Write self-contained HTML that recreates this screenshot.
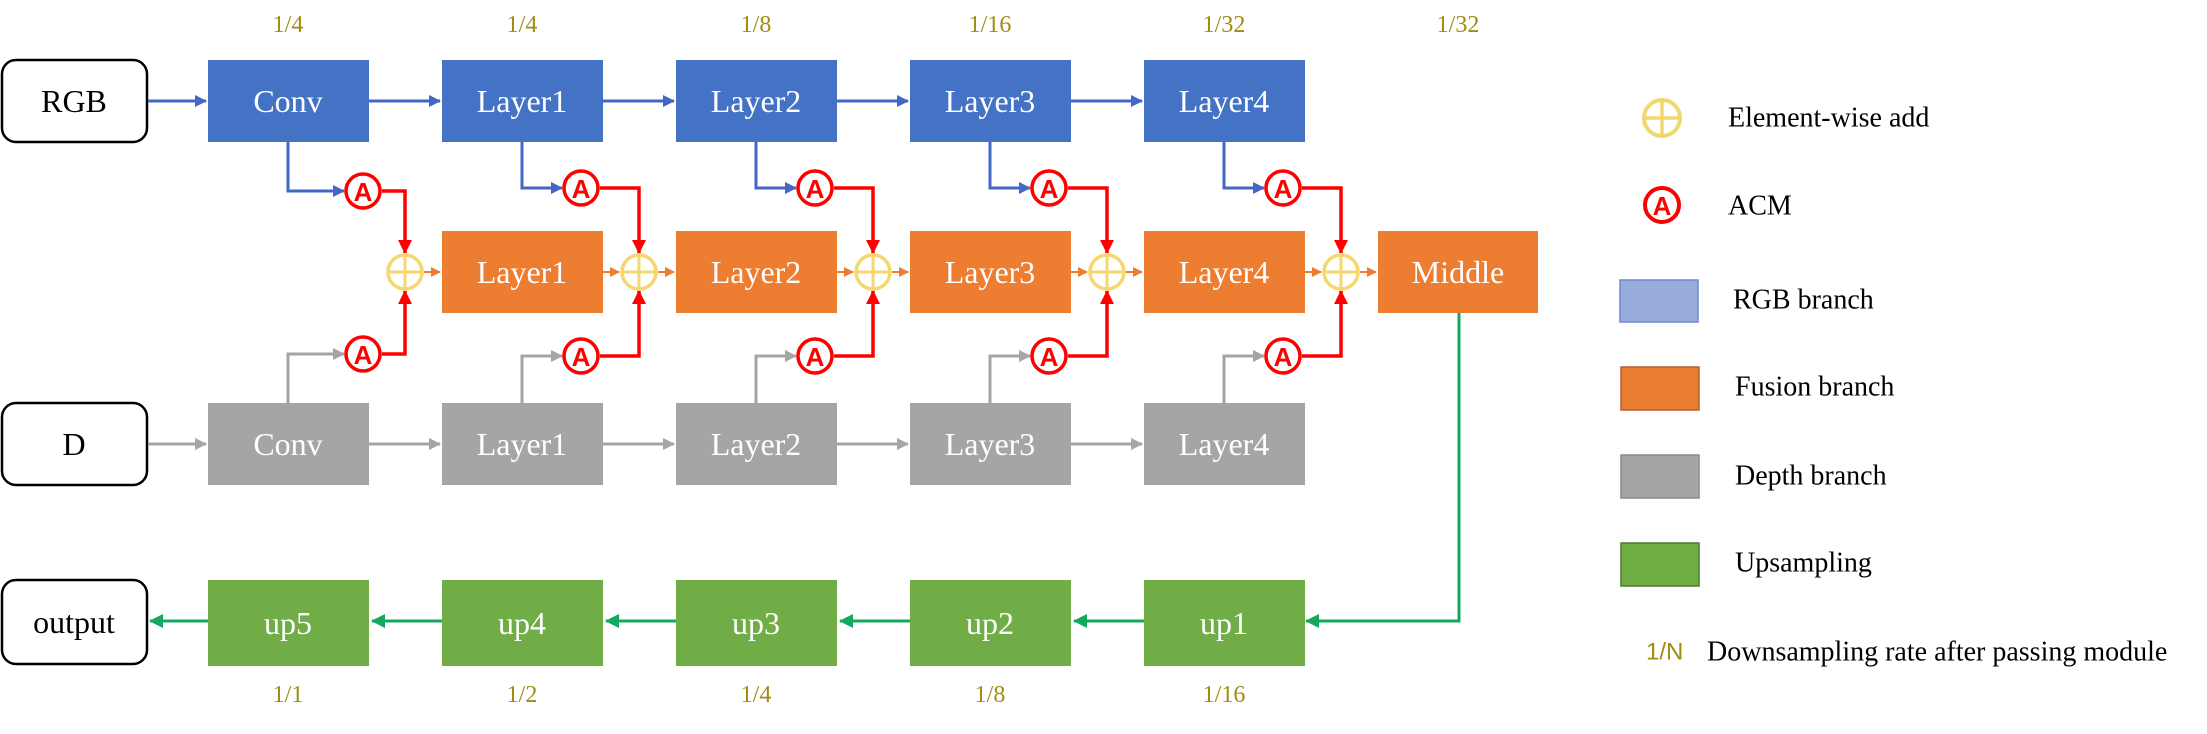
<!DOCTYPE html>
<html><head><meta charset="utf-8"><style>
html,body{margin:0;padding:0;background:#fff;}
svg{display:block;}
.bl{font-family:"Liberation Serif",serif;font-size:32px;fill:#fff;text-anchor:middle;dominant-baseline:central;}
.bk{font-family:"Liberation Serif",serif;font-size:32px;fill:#000;text-anchor:middle;dominant-baseline:central;}
.rt{font-family:"Liberation Serif",serif;font-size:24px;fill:#a08c10;text-anchor:middle;dominant-baseline:central;}
.lg{font-family:"Liberation Serif",serif;font-size:28px;fill:#000;dominant-baseline:central;}
.acm{font-family:"Liberation Sans",sans-serif;font-size:26px;font-weight:bold;fill:#f00;text-anchor:middle;dominant-baseline:central;}
</style></head><body>
<svg width="2207" height="734" viewBox="0 0 2207 734" xmlns="http://www.w3.org/2000/svg">
<defs>
<marker id="ab" markerWidth="12" markerHeight="12" refX="11" refY="6" orient="auto" markerUnits="userSpaceOnUse"><path d="M0,0 L12,6 L0,12z" fill="#4466c4"/></marker>
<marker id="ag" markerWidth="12" markerHeight="12" refX="11" refY="6" orient="auto" markerUnits="userSpaceOnUse"><path d="M0,0 L12,6 L0,12z" fill="#a5a5a5"/></marker>
<marker id="ar" markerWidth="14" markerHeight="14" refX="13" refY="7" orient="auto" markerUnits="userSpaceOnUse"><path d="M0,0 L14,7 L0,14z" fill="#f00"/></marker>
<marker id="ao" markerWidth="10" markerHeight="10" refX="9" refY="5" orient="auto" markerUnits="userSpaceOnUse"><path d="M0,0 L10,5 L0,10z" fill="#ed7d31"/></marker>
<marker id="an" markerWidth="14" markerHeight="14" refX="13" refY="7" orient="auto" markerUnits="userSpaceOnUse"><path d="M0,0 L14,7 L0,14z" fill="#12a85e"/></marker>
</defs>

<text class="rt" x="288" y="25">1/4</text><text class="rt" x="522" y="25">1/4</text><text class="rt" x="756" y="25">1/8</text><text class="rt" x="990" y="25">1/16</text><text class="rt" x="1224" y="25">1/32</text><text class="rt" x="1458" y="25">1/32</text>
<text class="rt" x="288" y="695">1/1</text><text class="rt" x="522" y="695">1/2</text><text class="rt" x="756" y="695">1/4</text><text class="rt" x="990" y="695">1/8</text><text class="rt" x="1224" y="695">1/16</text>

<rect x="2" y="60" width="145" height="82" rx="14" fill="#fff" stroke="#000" stroke-width="2.5"/><text class="bk" x="74" y="101">RGB</text>
<rect x="2" y="403" width="145" height="82" rx="14" fill="#fff" stroke="#000" stroke-width="2.5"/><text class="bk" x="74" y="444">D</text>
<rect x="2" y="580" width="145" height="84" rx="14" fill="#fff" stroke="#000" stroke-width="2.5"/><text class="bk" x="74" y="622">output</text>

<g stroke-width="3" fill="none">
<path d="M148 101H206" stroke="#4466c4" marker-end="url(#ab)"/>
<path d="M369 101H440" stroke="#4466c4" marker-end="url(#ab)"/>
<path d="M603 101H674" stroke="#4466c4" marker-end="url(#ab)"/>
<path d="M837 101H908" stroke="#4466c4" marker-end="url(#ab)"/>
<path d="M1071 101H1142" stroke="#4466c4" marker-end="url(#ab)"/>
<path d="M148 444H206" stroke="#a5a5a5" marker-end="url(#ag)"/>
<path d="M369 444H440" stroke="#a5a5a5" marker-end="url(#ag)"/>
<path d="M603 444H674" stroke="#a5a5a5" marker-end="url(#ag)"/>
<path d="M837 444H908" stroke="#a5a5a5" marker-end="url(#ag)"/>
<path d="M1071 444H1142" stroke="#a5a5a5" marker-end="url(#ag)"/>
<path d="M1144 621H1074" stroke="#12a85e" marker-end="url(#an)"/>
<path d="M910 621H840" stroke="#12a85e" marker-end="url(#an)"/>
<path d="M676 621H606" stroke="#12a85e" marker-end="url(#an)"/>
<path d="M442 621H372" stroke="#12a85e" marker-end="url(#an)"/>
<path d="M208 621H150" stroke="#12a85e" marker-end="url(#an)"/>
<path d="M1459 313V621H1306" stroke="#12a85e" marker-end="url(#an)"/>
</g>

<g>
<rect x="208" y="60" width="161" height="82" fill="#4472c4"/><text class="bl" x="288" y="101">Conv</text>
<rect x="442" y="60" width="161" height="82" fill="#4472c4"/><text class="bl" x="522" y="101">Layer1</text>
<rect x="676" y="60" width="161" height="82" fill="#4472c4"/><text class="bl" x="756" y="101">Layer2</text>
<rect x="910" y="60" width="161" height="82" fill="#4472c4"/><text class="bl" x="990" y="101">Layer3</text>
<rect x="1144" y="60" width="161" height="82" fill="#4472c4"/><text class="bl" x="1224" y="101">Layer4</text>

<rect x="442" y="231" width="161" height="82" fill="#ed7d31"/><text class="bl" x="522" y="272">Layer1</text>
<rect x="676" y="231" width="161" height="82" fill="#ed7d31"/><text class="bl" x="756" y="272">Layer2</text>
<rect x="910" y="231" width="161" height="82" fill="#ed7d31"/><text class="bl" x="990" y="272">Layer3</text>
<rect x="1144" y="231" width="161" height="82" fill="#ed7d31"/><text class="bl" x="1224" y="272">Layer4</text>
<rect x="1378" y="231" width="160" height="82" fill="#ed7d31"/><text class="bl" x="1458" y="272">Middle</text>

<rect x="208" y="403" width="161" height="82" fill="#a5a5a5"/><text class="bl" x="288" y="444">Conv</text>
<rect x="442" y="403" width="161" height="82" fill="#a5a5a5"/><text class="bl" x="522" y="444">Layer1</text>
<rect x="676" y="403" width="161" height="82" fill="#a5a5a5"/><text class="bl" x="756" y="444">Layer2</text>
<rect x="910" y="403" width="161" height="82" fill="#a5a5a5"/><text class="bl" x="990" y="444">Layer3</text>
<rect x="1144" y="403" width="161" height="82" fill="#a5a5a5"/><text class="bl" x="1224" y="444">Layer4</text>

<rect x="208" y="580" width="161" height="86" fill="#70ad47"/><text class="bl" x="288" y="623">up5</text>
<rect x="442" y="580" width="161" height="86" fill="#70ad47"/><text class="bl" x="522" y="623">up4</text>
<rect x="676" y="580" width="161" height="86" fill="#70ad47"/><text class="bl" x="756" y="623">up3</text>
<rect x="910" y="580" width="161" height="86" fill="#70ad47"/><text class="bl" x="990" y="623">up2</text>
<rect x="1144" y="580" width="161" height="86" fill="#70ad47"/><text class="bl" x="1224" y="623">up1</text>
</g>

<g>
<path d="M288 142V191H344" stroke="#4466c4" stroke-width="3" fill="none" marker-end="url(#ab)"/>
<path d="M288 403V354H344" stroke="#a5a5a5" stroke-width="3" fill="none" marker-end="url(#ag)"/>
<path d="M382 191H405V253" stroke="#f00" stroke-width="3.5" fill="none" marker-end="url(#ar)"/>
<path d="M382 354H405V291" stroke="#f00" stroke-width="3.5" fill="none" marker-end="url(#ar)"/>
<path d="M424 272H440" stroke="#ed7d31" stroke-width="2" marker-end="url(#ao)"/>
<circle cx="405" cy="272" r="17" fill="none" stroke="#f5d76e" stroke-width="3.5"/><path d="M388 272H422M405 255V289" stroke="#f5d76e" stroke-width="3"/>
<circle cx="363" cy="191" r="17" fill="#fff" stroke="#f00" stroke-width="3.5"/><text class="acm" x="363" y="192">A</text>
<circle cx="363" cy="354" r="17" fill="#fff" stroke="#f00" stroke-width="3.5"/><text class="acm" x="363" y="355">A</text>
</g>
<path d="M603 272H619" stroke="#ed7d31" stroke-width="2" marker-end="url(#ao)"/>
<path d="M837 272H853" stroke="#ed7d31" stroke-width="2" marker-end="url(#ao)"/>
<path d="M1071 272H1087" stroke="#ed7d31" stroke-width="2" marker-end="url(#ao)"/>
<path d="M1305 272H1321" stroke="#ed7d31" stroke-width="2" marker-end="url(#ao)"/>
<g id="u2">
<path d="M522 142V188H562" stroke="#4466c4" stroke-width="3" fill="none" marker-end="url(#ab)"/>
<path d="M522 403V356H562" stroke="#a5a5a5" stroke-width="3" fill="none" marker-end="url(#ag)"/>
<path d="M600 188H639V253" stroke="#f00" stroke-width="3.5" fill="none" marker-end="url(#ar)"/>
<path d="M600 356H639V291" stroke="#f00" stroke-width="3.5" fill="none" marker-end="url(#ar)"/>
<path d="M658 272H674" stroke="#ed7d31" stroke-width="2" marker-end="url(#ao)"/>
<circle cx="639" cy="272" r="17" fill="none" stroke="#f5d76e" stroke-width="3.5"/><path d="M622 272H656M639 255V289" stroke="#f5d76e" stroke-width="3"/>
<circle cx="581" cy="188" r="17" fill="#fff" stroke="#f00" stroke-width="3.5"/><text class="acm" x="581" y="189">A</text>
<circle cx="581" cy="356" r="17" fill="#fff" stroke="#f00" stroke-width="3.5"/><text class="acm" x="581" y="357">A</text>
</g>
<use href="#u2" transform="translate(234,0)"/>
<use href="#u2" transform="translate(468,0)"/>
<use href="#u2" transform="translate(702,0)"/>

<circle cx="1662" cy="118" r="18" fill="none" stroke="#f0d870" stroke-width="4"/><path d="M1644 118H1680M1662 100V136" stroke="#f0d870" stroke-width="3.5"/>
<text class="lg" x="1728" y="118">Element-wise add</text>
<circle cx="1662" cy="205" r="17" fill="#fff" stroke="#f00" stroke-width="4"/><text class="acm" x="1662" y="206">A</text>
<text class="lg" x="1728" y="206">ACM</text>
<rect x="1620" y="280" width="78" height="42" fill="#98acdc" stroke="#6f86d8" stroke-width="1.5"/><text class="lg" x="1733" y="300">RGB branch</text>
<rect x="1621" y="367" width="78" height="43" fill="#ea7e30" stroke="#b06030" stroke-width="1.5"/><text class="lg" x="1735" y="387">Fusion branch</text>
<rect x="1621" y="455" width="78" height="43" fill="#a5a5a5" stroke="#8a8a8a" stroke-width="1.5"/><text class="lg" x="1735" y="476">Depth branch</text>
<rect x="1621" y="543" width="78" height="43" fill="#6fad45" stroke="#4f7a30" stroke-width="1.5"/><text class="lg" x="1735" y="563">Upsampling</text>
<text x="1646" y="652" style="font-family:'Liberation Sans',sans-serif;font-size:24px;fill:#a08c10;dominant-baseline:central;">1/N</text>
<text class="lg" x="1707" y="652">Downsampling rate after passing module</text>
</svg>
</body></html>
